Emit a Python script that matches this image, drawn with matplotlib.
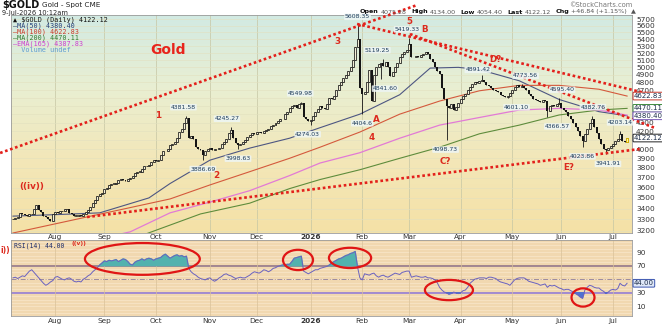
import numpy as np
import pandas as pd
import matplotlib
matplotlib.use('Agg')
import matplotlib.pyplot as plt
from matplotlib.patches import Ellipse
from matplotlib.colors import LinearSegmentedColormap
from matplotlib.ticker import FixedLocator, NullLocator

W, H = 662, 326

# daily closes, $GOLD (last two are the quoted prev close / last)
closes = [
    3300, 3315, 3325, 3355, 3345, 3340, 3335, 3345, 3350, 3395,
    3430, 3390, 3370, 3335, 3325, 3300, 3290, 3345, 3365, 3360,
    3375, 3380, 3395, 3400, 3360, 3350, 3335, 3335, 3340, 3335,
    3350, 3370, 3385, 3410, 3450, 3480, 3520, 3535, 3545, 3590,
    3600, 3630, 3640, 3640, 3650, 3680, 3685, 3680, 3665, 3690,
    3700, 3720, 3745, 3760, 3760, 3790, 3815, 3820, 3830, 3860,
    3880, 3870, 3885, 3940, 3980, 3975, 4000, 4040, 4060, 4080,
    4120, 4190, 4230, 4300, 4355, 4125, 4140, 4110, 4020, 4000,
    3985, 3930, 3980, 4000, 4010, 3990, 4000, 3995, 4010, 4050,
    4080, 4110, 4180, 4210, 4120, 4070, 4040, 4060, 4080, 4100,
    4130, 4160, 4180, 4170, 4190, 4195, 4180, 4200, 4210, 4230,
    4260, 4270, 4300, 4320, 4345, 4340, 4400, 4420, 4480, 4500,
    4510, 4480, 4520, 4530, 4360, 4340, 4320, 4330, 4380, 4430,
    4460, 4500, 4470, 4460, 4520, 4600, 4590, 4620, 4700, 4760,
    4800, 4860, 4900, 4950, 5000, 5100, 5280, 5400, 4720, 4650,
    4680, 4810, 4960, 4560, 4900, 5000, 5050, 5060, 5020, 5080,
    5000, 4880, 4940, 5000, 5060, 5140, 5190, 5210, 5250, 5330,
    5150, 5140, 5160, 5150, 5170, 5190, 5210, 5180, 5120, 5080,
    5000, 4950, 4910, 4720, 4580, 4500, 4480, 4520, 4450, 4490,
    4540, 4580, 4620, 4650, 4700, 4740, 4780, 4800, 4790, 4820,
    4830, 4800, 4770, 4750, 4720, 4700, 4690, 4670, 4640, 4625,
    4615, 4620, 4660, 4700, 4740, 4760, 4745, 4750, 4720, 4700,
    4650, 4620, 4590, 4570, 4560, 4550, 4570, 4560, 4440, 4500,
    4510, 4500, 4520, 4540, 4480, 4450, 4420, 4380, 4340, 4290,
    4250, 4200, 4150, 4090, 4170, 4230, 4290, 4340, 4250, 4180,
    4110, 4060, 4000, 3990, 4010, 4030, 4060, 4090, 4110, 4170,
    4090, 4075.28, 4122.12,
]

# labelled swing highs / lows (bar index: price)
highs = {74: 4381.58, 93: 4245.27, 123: 4549.98, 147: 5608.35, 158: 5119.25,
         169: 5419.33, 200: 4891.42, 217: 4773.56, 233: 4595.40, 247: 4382.76,
         259: 4203.14}
lows = {81: 3886.69, 96: 3998.63, 127: 4274.03, 149: 4404.6, 157: 4841.60,
        185: 4098.73, 211: 4601.10, 228: 4366.57, 243: 4023.86, 253: 3941.91}

rsi = [
    52, 53, 51, 53, 55, 54, 58, 62, 64, 60,
    56, 52, 48, 44, 41, 43, 46, 48, 53, 54,
    52, 50, 49, 51, 52, 50, 47, 46, 47, 46,
    50, 52, 55, 57, 61, 64, 67, 71, 74, 77,
    76, 78, 77, 78, 79, 76, 78, 80, 79, 76,
    72, 71, 75, 77, 78, 80, 78, 80, 81, 80,
    78, 80, 81, 82, 85, 87, 84, 81, 83, 85,
    86, 84, 85, 83, 84, 66, 61, 58, 56, 53,
    51, 50, 49, 51, 52, 49, 47, 49, 52, 54,
    57, 58, 56, 55, 53, 51, 52, 53, 52, 52,
    54, 56, 59, 61, 60, 59, 61, 64, 63, 61,
    63, 66, 67, 69, 70, 71, 71, 72, 72, 76,
    81, 82, 83, 84, 62, 60, 58, 60, 62, 64,
    64, 66, 67, 68, 69, 71, 74, 76, 78, 80,
    81, 83, 85, 86, 88, 89, 91, 68, 52, 49,
    58, 57, 56, 58, 59, 55, 53, 55, 56, 54,
    53, 55, 57, 59, 58, 57, 60, 61, 62, 62,
    53, 54, 55, 54, 53, 53, 54, 52, 52, 51,
    49, 45, 38, 34, 31, 30, 28, 29, 31, 30,
    29, 30, 33, 34, 38, 44, 47, 50, 51, 52,
    52, 52, 51, 53, 53, 52, 51, 48, 46, 45,
    44, 43, 41, 45, 49, 51, 52, 52, 52, 50,
    47, 46, 45, 44, 43, 41, 42, 43, 38, 41,
    40, 41, 39, 37, 36, 34, 35, 35, 33, 31,
    29, 27, 24, 22, 34, 38, 41, 40, 38, 37,
    37, 34, 32, 29, 31, 34, 35, 34, 36, 44,
    41, 40, 44,
]

# moving averages, sampled at bar indices
ma50_i = [0, 20, 37, 58, 67, 84, 101, 118, 131, 148, 165, 178, 190, 199, 216, 233, 250, 262]
ma50 = [3330, 3345, 3360, 3500, 3640, 3880, 4010, 4120, 4240, 4400, 4640, 4990, 5000, 4970, 4820, 4580, 4430, 4380.40]
ma100_i = [0, 67, 84, 101, 118, 131, 148, 165, 182, 199, 216, 233, 250, 262]
ma100 = [3180, 3490, 3626, 3760, 3900, 4020, 4190, 4400, 4560, 4690, 4760, 4760, 4710, 4622.83]
ma200_i = [0, 40, 80, 101, 118, 131, 148, 165, 182, 199, 216, 233, 250, 262]
ma200 = [2900, 3050, 3350, 3450, 3590, 3680, 3780, 3900, 4020, 4170, 4270, 4390, 4450, 4470.11]
ema165_i = [0, 30, 50, 67, 84, 101, 118, 131, 148, 165, 182, 199, 216, 233, 250, 262]
ema165 = [2950, 3100, 3190, 3360, 3460, 3570, 3720, 3850, 3960, 4120, 4270, 4360, 4450, 4470, 4450, 4387.83]

# trendlines: (bar index pair, price pair)
trend_x = [(-5.5, 172.4), (31.6, 267.5), (146.8, 276.9), (169.4, 273.9)]
trend_y = [(3957, 5928), (3322, 4000), (5629, 4611), (5477, 4237)]

price_ticks = list(range(3200, 5800, 100))
hidden_ticks = [4100, 4400, 4500, 4600]   # covered by the value tags

dates = pd.bdate_range(end='2026-07-09', periods=len(closes))
idx = np.arange(len(closes))


def fx(x):
    return x / W


def fy(y):
    return 1 - y / H


fig = plt.figure(figsize=(W / 100, H / 100), dpi=100)
fig.patch.set_facecolor('white')

main_rect = [fx(11), fy(233), (632 - 11) / W, (233 - 15) / H]
rsi_rect = [fx(11), fy(316), (632 - 11) / W, (316 - 240) / H]

bg = fig.add_axes(main_rect, zorder=0)
bg_cmap = LinearSegmentedColormap.from_list('bg', ['#d2eae3', '#e9efd2', '#f3e7b8', '#f5e1a6'])
bg.imshow(np.linspace(0, 1, 256).reshape(-1, 1), cmap=bg_cmap, aspect='auto')
bg.axis('off')

ax = fig.add_axes(main_rect, zorder=1)
ax.set_facecolor('none')
ax.set_yscale('log')

# candles
c = np.array(closes, float)
o = np.array([closes[0]] + closes[:-1], float)
hi = np.maximum(o, c)
lo = np.minimum(o, c)
for k, v in highs.items():
    hi[k] = max(hi[k], v)
for k, v in lows.items():
    lo[k] = min(lo[k], v)
up = c >= o
body_lo = np.minimum(o, c)
body_h = np.maximum(np.abs(c - o), 4)
ax.vlines(idx, lo, hi, color='#151515', lw=0.6, zorder=4)
ax.bar(idx[up], body_h[up], bottom=body_lo[up], width=0.85, facecolor='#f3efd8',
       edgecolor='#151515', lw=0.55, zorder=5)
ax.bar(idx[~up], body_h[~up], bottom=body_lo[~up], width=0.85, color='#151515', zorder=5)
ax.bar(idx[-1:], body_h[-1:], bottom=body_lo[-1:], width=0.9, facecolor='#fff6a0',
       edgecolor='#d4b000', lw=0.7, zorder=6)

ax.plot(ma50_i, ma50, color='#4d5682', lw=0.8, zorder=3)
ax.plot(ma100_i, ma100, color='#d4593c', lw=0.8, zorder=3)
ax.plot(ma200_i, ma200, color='#5e8c3c', lw=0.8, zorder=3)
ax.plot(ema165_i, ema165, color='#e27ad6', lw=0.9, zorder=3)

for tx, ty in zip(trend_x, trend_y):
    ax.plot(tx, ty, color='#e3201b', lw=1.9, ls=(0, (1.0, 1.0)), clip_on=False, zorder=7)

ax.set_xlim(-0.85, 264.1)
ax.set_ylim(3180, 5769)

month_pos = [i for i in range(1, len(dates)) if dates[i].month != dates[i - 1].month]
month_lab = ['2026' if dates[i].month == 1 else dates[i].strftime('%b') for i in month_pos]

ax.xaxis.set_major_locator(FixedLocator(month_pos))
ax.set_xticklabels(month_lab)
ax.tick_params(axis='x', length=0, labelsize=5.3, pad=1.0, colors='#333333')
ax.yaxis.tick_right()
ax.yaxis.set_major_locator(FixedLocator(price_ticks))
ax.yaxis.set_minor_locator(NullLocator())
ax.set_yticklabels(['' if v in hidden_ticks else str(v) for v in price_ticks])
ax.tick_params(axis='y', length=0, labelsize=5.3, pad=3, colors='#333333')
ax.grid(axis='x', color='#c6c6a4', lw=0.5)
ax.grid(axis='y', color='#e2e0bf', lw=0.4)
for s in ax.spines.values():
    s.set_color('#9a9a9a')
    s.set_linewidth(0.6)
for t in ax.get_xticklabels():
    if t.get_text() == '2026':
        t.set_fontweight('bold')

# swing labels: (bar, price, above?, dx px, dy px)
swing = [(74, 4381.58, True, -3, 6), (81, 3886.69, False, 0, 7), (93, 4245.27, True, -4, 6),
         (96, 3998.63, False, 0, 7), (123, 4549.98, True, -1, 6), (127, 4274.03, False, -3, 7),
         (147, 5608.35, True, 0, 6), (149, 4404.6, False, 0, 7), (158, 5119.25, True, -6, 6),
         (157, 4841.60, False, 4, 7), (169, 5419.33, True, -2, 6), (185, 4098.73, False, -1, 7),
         (200, 4891.42, True, -4, 3), (211, 4601.10, False, 9, 7), (217, 4773.56, True, 4, 6),
         (228, 4366.57, False, 10, 7), (233, 4595.40, True, 3, 6), (243, 4023.86, False, 0, 7),
         (247, 4382.76, True, 1, 6), (253, 3941.91, False, 2, 7), (259, 4203.14, True, 0, 6)]
for b, v, above, dx, dy in swing:
    ax.annotate(f'{v:.2f}' if v != 4404.6 else '4404.6', xy=(b, v),
                xytext=(dx * 0.72, (dy if above else -dy) * 0.72), textcoords='offset points',
                ha='center', va='bottom' if above else 'top', fontsize=4.4, color='#1d3b5a',
                bbox=dict(boxstyle='round,pad=0.12', fc='#eef6f6', ec='none', alpha=0.85),
                zorder=8)

# right-side value tags
tags = [(4622.83, '#c83a2c'), (4470.11, '#3c8a3c'), (4380.40, '#7a5ab8'), (4122.12, '#202020')]
for v, col in tags:
    ax.annotate(f'{v:.2f}', xy=(1.003, v), xycoords=ax.get_yaxis_transform(),
                ha='left', va='center', fontsize=5.0, color='#1d2d4a',
                bbox=dict(boxstyle='round,pad=0.12', fc='white', ec=col, lw=0.7),
                annotation_clip=False, zorder=9)

# RSI panel
rax = fig.add_axes(rsi_rect, zorder=1)
rax.set_facecolor('#f1d8b0')
r = np.array(rsi, float)
for lvl in range(0, 106, 5):
    rax.axhline(lvl, color='#f7e4c6', lw=0.6, zorder=0)
rax.fill_between(idx, r, 70, where=r >= 70, interpolate=True, color='#52b2ae', zorder=2)
rax.fill_between(idx, r, 30, where=r <= 30, interpolate=True, color='#4d72d2', zorder=2)
rax.axhline(70, color='#8c6f86', lw=1.1, zorder=1)
rax.axhline(30, color='#8b74d6', lw=1.1, zorder=1)
rax.axhline(50, color='#8d7d9a', lw=0.6, ls=(0, (6, 2, 1, 2)), zorder=1)
rax.plot(idx, r, color='#6a62c0', lw=0.7, zorder=3)

rsi_circles = [(55.2, 80, 49, 47), (121.6, 78.5, 12.8, 30), (143.8, 81.5, 18, 30),
               (186, 34, 20.5, 30), (243.2, 23, 9.8, 27)]
for cx, cy, w, h in rsi_circles:
    rax.add_patch(Ellipse((cx, cy), w, h, fill=False, ec='#e01515', lw=1.6,
                          clip_on=False, zorder=6))

rax.set_xlim(-0.85, 264.1)
rax.set_ylim(-4.4, 108)
rax.xaxis.set_major_locator(FixedLocator(month_pos))
rax.set_xticklabels(month_lab)
rax.tick_params(axis='x', length=0, labelsize=5.3, pad=1.2, colors='#333333')
rax.yaxis.tick_right()
rax.yaxis.set_major_locator(FixedLocator([10, 30, 50, 70, 90]))
rax.set_yticklabels(['10', '30', '', '70', '90'])
rax.tick_params(axis='y', length=0, labelsize=5.3, pad=3, colors='#333333')
rax.grid(axis='x', color='#d9c29a', lw=0.5)
for s in rax.spines.values():
    s.set_color('#9a9a9a')
    s.set_linewidth(0.6)
for t in rax.get_xticklabels():
    if t.get_text() == '2026':
        t.set_fontweight('bold')
rax.annotate('44.00', xy=(1.003, rsi[-1]), xycoords=rax.get_yaxis_transform(),
             ha='left', va='center', fontsize=5.0, color='#1d2d4a',
             bbox=dict(boxstyle='round,pad=0.12', fc='#dfe8f8', ec='#3a55b0', lw=0.7),
             annotation_clip=False)

# header
fig.text(fx(2), fy(5.5), '$GOLD', fontsize=7, fontweight='bold', va='center', color='#111')
fig.text(fx(42), fy(5.5), 'Gold - Spot CME', fontsize=5.2, va='center', color='#222')
fig.text(fx(2), fy(12.5), '9-Jul-2026 10:12am', fontsize=4.8, va='center', color='#222')
fig.text(fx(632), fy(5), '\u00a9StockCharts.com', fontsize=4.8, va='center', ha='right', color='#777')

renderer = fig.canvas.get_renderer()
hdr = [('Open', True), ('4075.28', False), ('High', True), ('4134.00', False),
       ('Low', True), ('4054.40', False), ('Last', True), ('4122.12', False),
       ('Chg', True), ('+46.84 (+1.15%)', False), ('\u25b2', False)]
xpos = 360
for s, b in hdr:
    t = fig.text(fx(xpos), fy(12), s, fontsize=4.6, va='center',
                 fontweight='bold' if b else 'normal', color='#111' if b else '#555')
    bb = t.get_window_extent(renderer)
    xpos = bb.x1 + (2 if b else 4.5)

# in-chart legend
legend = [('\u25b2 $GOLD (Daily) 4122.12', '#111111'), ('\u2014MA(50) 4380.40', '#24407a'),
          ('\u2014MA(100) 4622.83', '#c83a2c'), ('\u2014MA(200) 4470.11', '#2f7a2f'),
          ('\u2014EMA(165) 4387.83', '#cf3fcf'), ('  Volume undef', '#5f9bd0')]
for k, (s, col) in enumerate(legend):
    fig.text(fx(13), fy(19.5 + 6 * k), s, fontsize=4.9, family='DejaVu Sans Mono',
             va='center', color=col, zorder=10)
fig.text(fx(14), fy(245.5), 'RSI(14) 44.00', fontsize=4.7, family='DejaVu Sans Mono',
         va='center', color='#1d2d6a', zorder=10)

# wave annotations
red = '#dc2a1e'
fig.text(fx(168), fy(50), 'Gold', fontsize=10, fontweight='bold', color='#e8241c',
         ha='center', va='center', zorder=10)
waves = [('((iv))', 32, 187), ('1', 158, 115), ('2', 216, 176), ('3', 337, 42), ('4', 372, 138),
         ('5', 409, 22), ('A', 376, 120), ('B', 425, 29), ('C?', 445, 161), ('D?', 495, 59),
         ('E?', 569, 167)]
for s, x, y in waves:
    fig.text(fx(x), fy(y), s, fontsize=6.3, fontweight='bold', color=red,
             ha='center', va='center', zorder=10)
fig.text(fx(0), fy(250), 'i))', fontsize=5.5, fontweight='bold', color=red, va='center', zorder=10)
fig.text(fx(72), fy(243), '((v))', fontsize=4.2, fontweight='bold', color=red, va='center', zorder=10)

fig.savefig('out.png', dpi=100)
